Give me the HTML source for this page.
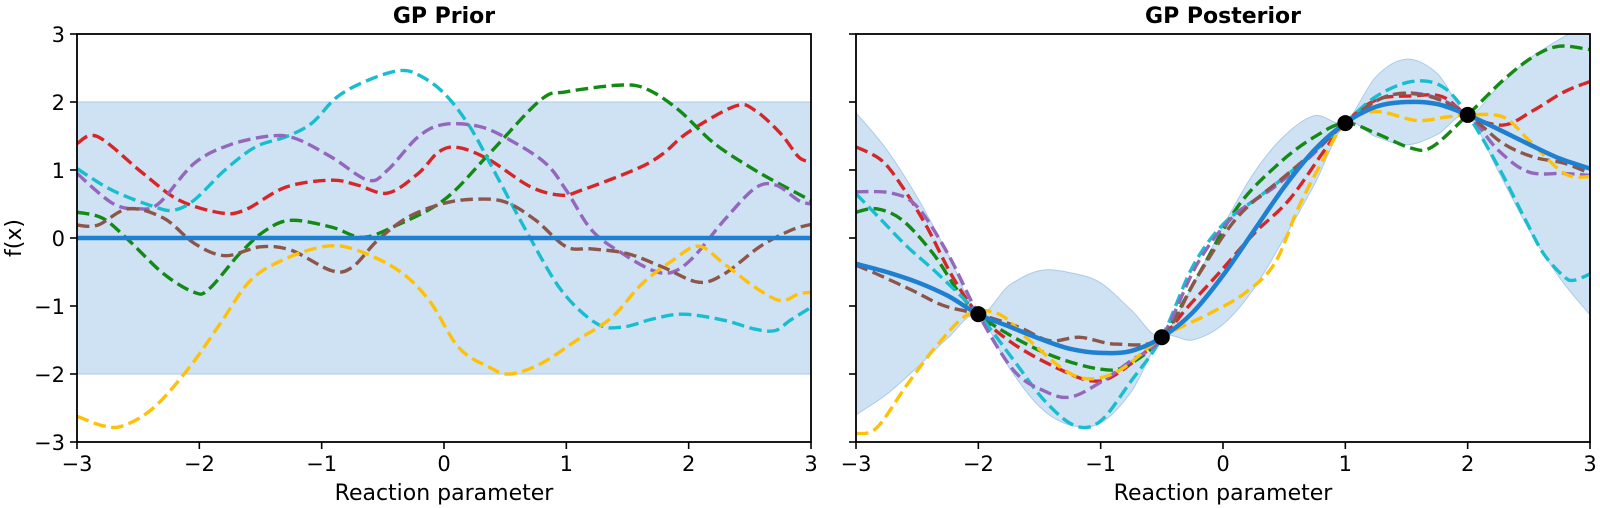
<!DOCTYPE html>
<html><head><meta charset="utf-8"><style>
body{margin:0;background:#fff;}
svg{display:block;font-family:"DejaVu Sans","Liberation Sans",sans-serif;}
</style></head><body>
<svg id="c" width="1600" height="508" viewBox="0 0 1600 508"></svg>
<script>
// ---- data ----
const xTicks=[-3,-2,-1,0,1,2,3];
const yTicks=[-3,-2,-1,0,1,2,3];
const tickLabels=["\u22123","\u22122","\u22121","0","1","2","3"];
const seriesColors={red:"#d62728",green:"#138a13",cyan:"#17becf",purple:"#9467bd",brown:"#8c564b",yellow:"#ffc107"};
// prior samples
const priorRedX=[-3,-2.83,-2.46,-2.17,-1.83,-1.63,-1.29,-0.92,-0.71,-0.46,-0.21,-0.04,0.12,0.37,0.71,0.96,1.12,1.58,1.79,2.0,2.38,2.54,2.75,2.9,3];
const priorRedY=[1.39,1.49,0.95,0.56,0.37,0.41,0.75,0.85,0.78,0.66,0.95,1.27,1.33,1.15,0.75,0.63,0.70,1.02,1.24,1.56,1.94,1.88,1.54,1.19,1.12];
const priorGreenX=[-3,-2.79,-2.58,-2.29,-2.04,-1.92,-1.67,-1.46,-1.25,-0.92,-0.67,-0.42,0,0.37,0.79,1.0,1.46,1.67,1.92,2.21,2.54,2.79,3];
const priorGreenY=[0.38,0.29,-0.03,-0.53,-0.8,-0.75,-0.23,0.11,0.26,0.16,0.01,0.16,0.56,1.24,2.03,2.15,2.25,2.18,1.88,1.39,1.0,0.75,0.55];
const priorCyanX=[-3,-2.71,-2.37,-2.21,-2.04,-1.79,-1.54,-1.29,-1.08,-0.87,-0.62,-0.37,-0.21,0,0.21,0.42,0.67,0.96,1.25,1.46,1.71,1.96,2.29,2.54,2.71,2.83,3];
const priorCyanY=[1.02,0.70,0.46,0.41,0.56,1.0,1.34,1.49,1.69,2.08,2.32,2.46,2.40,2.13,1.64,0.95,0.11,-0.77,-1.26,-1.31,-1.19,-1.12,-1.21,-1.34,-1.36,-1.21,-1.02];
const priorPurpleX=[-3,-2.71,-2.5,-2.33,-2.04,-1.75,-1.42,-1.21,-0.92,-0.62,-0.46,-0.21,0,0.29,0.54,0.83,1.0,1.21,1.46,1.71,1.87,2.04,2.29,2.54,2.71,2.9,3];
const priorPurpleY=[0.95,0.51,0.43,0.51,1.10,1.37,1.50,1.46,1.19,0.85,1.0,1.49,1.67,1.64,1.44,1.1,0.70,0.11,-0.23,-0.48,-0.50,-0.28,0.26,0.73,0.78,0.55,0.5];
const priorBrownX=[-3,-2.83,-2.58,-2.29,-2.04,-1.79,-1.5,-1.25,-0.92,-0.75,-0.54,-0.29,0,0.25,0.5,0.75,1.0,1.21,1.5,1.79,2.08,2.29,2.58,2.83,3];
const priorBrownY=[0.19,0.19,0.43,0.29,-0.08,-0.26,-0.13,-0.18,-0.48,-0.43,-0.03,0.31,0.51,0.57,0.53,0.26,-0.13,-0.16,-0.23,-0.43,-0.65,-0.53,-0.13,0.11,0.2];
const priorYellowX=[-3,-2.79,-2.62,-2.37,-2.08,-1.83,-1.58,-1.29,-0.96,-0.71,-0.37,-0.12,0.12,0.37,0.54,0.79,1.08,1.37,1.62,1.87,2.08,2.29,2.54,2.75,2.9,3];
const priorYellowY=[-2.62,-2.76,-2.76,-2.49,-1.9,-1.26,-0.62,-0.30,-0.12,-0.18,-0.48,-0.92,-1.61,-1.90,-2.0,-1.85,-1.51,-1.17,-0.67,-0.33,-0.12,-0.38,-0.72,-0.92,-0.82,-0.8];
const priorMean=0, priorStd2=2;
// posterior
const obsX=[-2,-0.5,1,2];
const obsY=[-1.12,-1.46,1.69,1.81];
const gridX=[-3,-2.75,-2.5,-2.25,-2,-1.75,-1.5,-1.25,-1,-0.75,-0.5,-0.25,0,0.25,0.5,0.75,1,1.25,1.5,1.75,2,2.25,2.5,2.75,3];
const postMean=[-0.38,-0.50,-0.65,-0.85,-1.12,-1.30,-1.48,-1.63,-1.69,-1.66,-1.46,-1.10,-0.55,0.10,0.75,1.30,1.69,1.93,2.0,1.97,1.81,1.60,1.38,1.17,1.02];
const postHalfWidth=[2.22,1.80,1.25,0.62,0.02,0.60,1.00,1.12,1.03,0.60,0.02,0.40,0.72,0.85,0.75,0.50,0.02,0.44,0.63,0.45,0.02,0.62,1.25,1.75,2.15];
const postRedX=[-3,-2.79,-2.62,-2.42,-2.21,-2,-1.71,-1.37,-1.08,-0.87,-0.5,-0.29,-0.04,0.25,0.54,0.83,1,1.25,1.54,1.79,2,2.29,2.54,2.79,3];
const postRedY=[1.34,1.14,0.75,0.16,-0.57,-1.12,-1.56,-1.9,-2.1,-2.0,-1.46,-1.02,-0.53,0.06,0.56,1.29,1.69,2.03,2.09,2.08,1.81,1.66,1.88,2.15,2.3];
const postGreenX=[-3,-2.83,-2.62,-2.37,-2.17,-2,-1.71,-1.37,-1,-0.79,-0.5,-0.21,0.12,0.46,0.75,1,1.25,1.54,1.71,2,2.29,2.54,2.75,3];
const postGreenY=[0.38,0.43,0.26,-0.23,-0.77,-1.12,-1.46,-1.75,-1.93,-1.88,-1.46,-0.57,0.46,1.10,1.49,1.69,1.54,1.32,1.34,1.81,2.32,2.67,2.82,2.77];
const postCyanX=[-3,-2.79,-2.58,-2.33,-2,-1.71,-1.46,-1.21,-1,-0.75,-0.5,-0.25,0,0.29,0.54,0.79,1,1.25,1.54,1.79,2,2.25,2.46,2.62,2.79,2.87,3];
const postCyanY=[0.65,0.26,-0.13,-0.53,-1.12,-1.8,-2.39,-2.76,-2.69,-2.1,-1.46,-0.43,0.2,0.6,0.95,1.34,1.69,2.08,2.3,2.23,1.81,1.05,0.31,-0.23,-0.57,-0.62,-0.53];
const postPurpleX=[-3,-2.71,-2.5,-2.25,-2,-1.71,-1.46,-1.25,-1,-0.75,-0.5,-0.21,0.08,0.42,0.71,1,1.33,1.67,2,2.25,2.5,2.79,3];
const postPurpleY=[0.68,0.66,0.46,-0.23,-1.12,-1.95,-2.25,-2.34,-2.12,-1.8,-1.46,-0.38,0.31,0.75,1.19,1.69,2.08,2.1,1.81,1.29,0.97,0.95,0.92];
const postBrownX=[-3,-2.83,-2.54,-2.29,-2,-1.67,-1.42,-1.17,-0.87,-0.5,-0.21,0.12,0.5,0.79,1,1.33,1.67,2,2.29,2.54,2.79,3];
const postBrownY=[-0.40,-0.53,-0.77,-0.99,-1.12,-1.31,-1.51,-1.46,-1.56,-1.46,-0.57,0.31,0.9,1.34,1.69,2.08,2.09,1.81,1.39,1.19,1.1,0.95];
const postYellowX=[-3,-2.83,-2.58,-2.33,-2.08,-1.83,-1.58,-1.29,-1.08,-0.83,-0.5,-0.12,0.17,0.42,0.62,0.83,1,1.25,1.58,1.83,2,2.29,2.5,2.79,3];
const postYellowY=[-2.88,-2.79,-2.15,-1.56,-1.12,-1.12,-1.51,-1.95,-2.07,-1.93,-1.46,-1.12,-0.82,-0.38,0.46,1.19,1.69,1.86,1.73,1.78,1.81,1.78,1.44,0.95,0.9];

// ---- drawing ----
const NS="http://www.w3.org/2000/svg";
const svg=document.getElementById('c');
function mk(tag,attrs,parent){const e=document.createElementNS(NS,tag);for(const k in attrs)e.setAttribute(k,attrs[k]);(parent||svg).appendChild(e);return e;}
const panels=[{x0:77,x1:811},{x0:856,x1:1590}];
const Y0=34,Y1=442;
function sx(p,v){return p.x0+(v+3)/6*(p.x1-p.x0);}
function sy(v){return Y1-(v+3)/6*(Y1-Y0);}
function smooth(pts){
  let d="M"+pts[0][0].toFixed(1)+","+pts[0][1].toFixed(1);
  for(let i=0;i<pts.length-1;i++){
    const p0=pts[Math.max(0,i-1)],p1=pts[i],p2=pts[i+1],p3=pts[Math.min(pts.length-1,i+2)];
    const c1=[p1[0]+(p2[0]-p0[0])/6,p1[1]+(p2[1]-p0[1])/6];
    const c2=[p2[0]-(p3[0]-p1[0])/6,p2[1]-(p3[1]-p1[1])/6];
    d+="C"+c1[0].toFixed(1)+","+c1[1].toFixed(1)+" "+c2[0].toFixed(1)+","+c2[1].toFixed(1)+" "+p2[0].toFixed(1)+","+p2[1].toFixed(1);
  }
  return d;
}
function pts(p,xs,ys){return xs.map((x,i)=>[sx(p,x),sy(ys[i])]);}
const defs=mk('defs',{});
panels.forEach((p,i)=>{const cp=mk('clipPath',{id:'clip'+i},defs);mk('rect',{x:p.x0,y:Y0,width:p.x1-p.x0,height:Y1-Y0},cp);});

function drawDashed(p,g,xs,ys,color,name){
  const e=mk('path',{d:smooth(pts(p,xs,ys)),fill:'none',stroke:color,'stroke-width':3.4,'stroke-dasharray':'12.5,5.5'},g);
  
  
}

// Prior panel
(function(){
  const p=panels[0];
  const g=mk('g',{'clip-path':'url(#clip0)'});
  
  
  const band=mk('rect',{x:p.x0,y:sy(priorMean+priorStd2),width:p.x1-p.x0,height:sy(priorMean-priorStd2)-sy(priorMean+priorStd2),fill:'#cfe2f3',stroke:'#a9cbea','stroke-width':1},g);
  
  
  drawDashed(p,g,priorRedX,priorRedY,seriesColors.red,'prior-sample-red');
  drawDashed(p,g,priorGreenX,priorGreenY,seriesColors.green,'prior-sample-green');
  drawDashed(p,g,priorCyanX,priorCyanY,seriesColors.cyan,'prior-sample-cyan');
  drawDashed(p,g,priorPurpleX,priorPurpleY,seriesColors.purple,'prior-sample-purple');
  drawDashed(p,g,priorBrownX,priorBrownY,seriesColors.brown,'prior-sample-brown');
  drawDashed(p,g,priorYellowX,priorYellowY,seriesColors.yellow,'prior-sample-yellow');
  const m=mk('line',{x1:p.x0,x2:p.x1,y1:sy(priorMean),y2:sy(priorMean),stroke:'#1f7fd0','stroke-width':4.5},g);
  
  
})();

// Posterior panel
(function(){
  const p=panels[1];
  const g=mk('g',{'clip-path':'url(#clip1)'});
  
  
  const up=gridX.map((x,i)=>[sx(p,x),sy(postMean[i]+postHalfWidth[i])]);
  const lo=gridX.map((x,i)=>[sx(p,x),sy(postMean[i]-postHalfWidth[i])]).reverse();
  const d=smooth(up)+"L"+smooth(lo).slice(1)+"Z";
  const band=mk('path',{d:d,fill:'#cfe2f3',stroke:'#a9cbea','stroke-width':1},g);
  
  
  drawDashed(p,g,postRedX,postRedY,seriesColors.red,'posterior-sample-red');
  drawDashed(p,g,postGreenX,postGreenY,seriesColors.green,'posterior-sample-green');
  drawDashed(p,g,postCyanX,postCyanY,seriesColors.cyan,'posterior-sample-cyan');
  drawDashed(p,g,postPurpleX,postPurpleY,seriesColors.purple,'posterior-sample-purple');
  drawDashed(p,g,postBrownX,postBrownY,seriesColors.brown,'posterior-sample-brown');
  drawDashed(p,g,postYellowX,postYellowY,seriesColors.yellow,'posterior-sample-yellow');
  const m=mk('path',{d:smooth(pts(p,gridX,postMean)),fill:'none',stroke:'#1f7fd0','stroke-width':4.5},g);
  
  
  obsX.forEach((x,i)=>{
    const c=mk('circle',{cx:sx(p,x),cy:sy(obsY[i]),r:8,fill:'#000'});
    
    
  });
})();

// Axes
panels.forEach((p,pi)=>{
  const fr=mk('rect',{x:p.x0,y:Y0,width:p.x1-p.x0,height:Y1-Y0,fill:'none',stroke:'#000','stroke-width':1.8});
  
  
  xTicks.forEach((v,i)=>{
    mk('line',{x1:sx(p,v),x2:sx(p,v),y1:Y1,y2:Y1+7,stroke:'#000','stroke-width':1.6});
    const t=mk('text',{x:sx(p,v),y:Y1+29,'text-anchor':'middle','font-size':21,fill:'#000'});
    t.textContent=tickLabels[i];
    
    
  });
  yTicks.forEach((v,i)=>{
    mk('line',{x1:p.x0-7,x2:p.x0,y1:sy(v),y2:sy(v),stroke:'#000','stroke-width':1.6});
    if(pi===0){
      const t=mk('text',{x:p.x0-12,y:sy(v)+8,'text-anchor':'end','font-size':21,fill:'#000'});
      t.textContent=tickLabels[i];
      
      
    }
  });
  const xl=mk('text',{x:(p.x0+p.x1)/2,y:500,'text-anchor':'middle','font-size':22,fill:'#000'});
  xl.textContent='Reaction parameter';
  
  
  const tt=mk('text',{x:(p.x0+p.x1)/2,y:23,'text-anchor':'middle','font-size':22,'font-weight':'bold',fill:'#000'});
  tt.textContent=pi?'GP Posterior':'GP Prior';
  
  
});
const yl=mk('text',{x:0,y:0,'text-anchor':'middle','font-size':22,fill:'#000',transform:'translate(21,238) rotate(-90)'});
yl.textContent='f(x)';


</script>
</body></html>
